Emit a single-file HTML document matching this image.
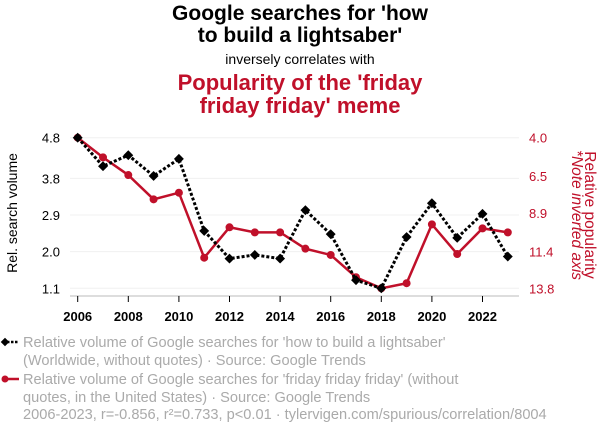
<!DOCTYPE html>
<html><head><meta charset="utf-8"><style>
body{margin:0;width:600px;height:436px;background:#fff;font-family:"Liberation Sans",sans-serif;overflow:hidden}
svg{position:absolute;left:0;top:0}
</style></head><body>
<svg width="600" height="436">
<g id="titles" font-family="Liberation Sans, sans-serif" text-anchor="middle">
<text x="300" y="20" font-size="21" font-weight="bold" fill="#000">Google searches for 'how</text>
<text x="300" y="42" font-size="21" font-weight="bold" fill="#000">to build a lightsaber'</text>
<text x="300" y="64" font-size="14" fill="#000">inversely correlates with</text>
<text x="300" y="90" font-size="22" font-weight="bold" fill="#c0102a">Popularity of the 'friday</text>
<text x="300" y="113" font-size="22" font-weight="bold" fill="#c0102a">friday friday' meme</text>
</g>
<g id="grid"></g>
<line x1="70" x2="519" y1="296" y2="296" stroke="#bbb" stroke-width="1"/>
<g id="axes" font-family="Liberation Sans, sans-serif"></g>
<text transform="translate(17,213) rotate(-90)" text-anchor="middle" font-size="14" fill="#000">Rel. search volume</text>
<text transform="translate(585,215) rotate(90)" text-anchor="middle" font-size="15.5" fill="#c0102a">Relative popularity</text>
<text transform="translate(572,215) rotate(90)" text-anchor="middle" font-size="15.5" font-style="italic" fill="#c0102a">*Note inverted axis</text>
<g id="series"></g>
<g id="legend" font-family="Liberation Sans, sans-serif" font-size="14.6" fill="#aaa">
<g>
<line x1="3" x2="19" y1="342" y2="342" stroke="#000" stroke-width="2.5" stroke-dasharray="2.5,1.5"/>
<rect x="2" y="339" width="6" height="6" transform="rotate(45 5 342)" fill="#000"/>
<text x="23" y="347">Relative volume of Google searches for 'how to build a lightsaber'</text>
<text x="23" y="365">(Worldwide, without quotes) · Source: Google Trends</text>
</g>
<g>
<line x1="3" x2="19" y1="379" y2="379" stroke="#c0102a" stroke-width="2.5"/>
<circle cx="5" cy="379" r="3.5" fill="#c0102a"/>
<text x="23" y="384">Relative volume of Google searches for 'friday friday friday' (without</text>
<text x="23" y="402">quotes, in the United States) · Source: Google Trends</text>
</g>
</g>
<text x="23" y="419" font-size="14.6" fill="#aaa" font-family="Liberation Sans, sans-serif">2006-2023, r=-0.856, r²=0.733, p&lt;0.01 · tylervigen.com/spurious/correlation/8004</text>
</svg>
<script>
const years=[2006,2007,2008,2009,2010,2011,2012,2013,2014,2015,2016,2017,2018,2019,2020,2021,2022,2023];
const lightsaber=[4.8,4.10,4.37,3.86,4.28,2.51,1.83,1.92,1.83,3.02,2.43,1.30,1.1,2.36,3.19,2.34,2.93,1.88];
const friday=[4.0,5.28,6.43,8.01,7.58,11.81,9.83,10.16,10.16,11.22,11.63,13.08,13.8,13.47,9.64,11.57,9.9,10.16];
const leftTicks=["1.1","2.0","2.9","3.8","4.8"];
const rightTicks=["4.0","6.5","8.9","11.4","13.8"];
const xTicks=[2006,2008,2010,2012,2014,2016,2018,2020,2022];
const NS="http://www.w3.org/2000/svg";
const X=y=>77.7+(y-2006)*25.3;
const YL=v=>288.3-(v-1.1)*(150.6/3.7);
const YR=v=>137.7+(v-4.0)*(150.6/9.8);
function mk(t,a,p){const e=document.createElementNS(NS,t);for(const k in a)e.setAttribute(k,a[k]);p.appendChild(e);return e;}
const grid=document.getElementById('grid'),axes=document.getElementById('axes'),ser=document.getElementById('series');
leftTicks.forEach((t,i)=>{const y=YL(parseFloat(t));
const g=mk('line',{x1:70,x2:519,y1:y,y2:y,stroke:'#f0f0f0','stroke-width':1},grid);


const tx=mk('text',{x:60,y:y+5,'text-anchor':'end','font-size':13,fill:'#000'},axes);tx.textContent=t;


const r=rightTicks[i];const ty=YR(parseFloat(r));
const tr=mk('text',{x:529,y:ty+5,'font-size':13,fill:'#c0102a'},axes);tr.textContent=r;

});
xTicks.forEach(yr=>{const x=X(yr);
const l=mk('line',{x1:x,x2:x,y1:296,y2:302,stroke:'#000','stroke-width':1},axes);


const t=mk('text',{x:x,y:321,'text-anchor':'middle','font-size':13,'font-weight':'bold',fill:'#000'},axes);t.textContent=yr;

});
const pf=mk('polyline',{points:years.map((y,i)=>X(y)+','+YR(friday[i])).join(' '),fill:'none',stroke:'#c0102a','stroke-width':2.5},ser);


years.forEach((y,i)=>{const c=mk('circle',{cx:X(y),cy:YR(friday[i]),r:4,fill:'#c0102a'},ser);

});
const pl=mk('polyline',{points:years.map((y,i)=>X(y)+','+YL(lightsaber[i])).join(' '),fill:'none',stroke:'#000','stroke-width':3,'stroke-dasharray':'3,2'},ser);


years.forEach((y,i)=>{const x=X(y),yy=YL(lightsaber[i]);
const d=mk('rect',{x:x-3.5,y:yy-3.5,width:7,height:7,transform:`rotate(45 ${x} ${yy})`,fill:'#000'},ser);

});
</script>
</body></html>
